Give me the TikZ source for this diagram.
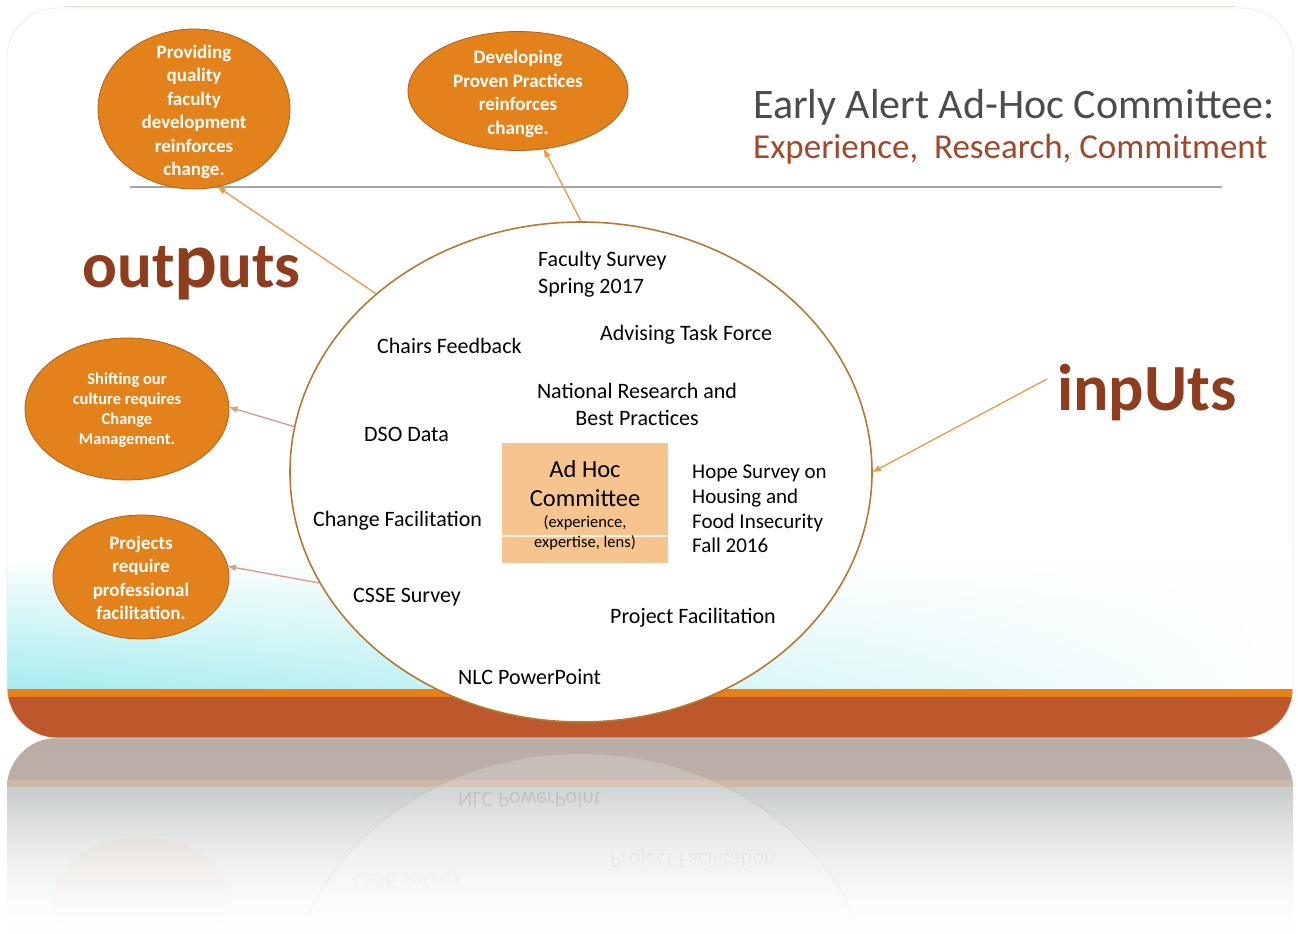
\documentclass[tikz,border=0pt]{standalone}
\usepackage{fontspec}
\setmainfont{Carlito}
\usetikzlibrary{shapes.geometric,arrows.meta,fadings}
\definecolor{orangeC}{HTML}{E3811B}
\definecolor{orangeB}{HTML}{B0601C}
\definecolor{rust}{HTML}{BC582B}
\definecolor{stripO}{HTML}{E6811A}
\definecolor{cyanC}{HTML}{A4ECEF}
\definecolor{wordC}{HTML}{8E3D1F}
\definecolor{titleG}{HTML}{4C4C4C}
\definecolor{titleR}{HTML}{A2482A}
\definecolor{ellB}{HTML}{B57A30}
\definecolor{boxC}{HTML}{F6C48E}
\definecolor{arrO}{HTML}{EA9A45}
\definecolor{arrP}{HTML}{D49A8A}
\definecolor{refTop}{HTML}{B9ADA7}
\definecolor{refStrip}{HTML}{CDB8A8}
\definecolor{refMid}{HTML}{C8CCCC}
\tikzfading[name=fadeR, left color=transparent!0, middle color=transparent!85, right color=transparent!100]
\tikzfading[name=fadeDown, top color=transparent!100, bottom color=transparent!0]
\begin{document}
\begin{tikzpicture}[x=1pt,y=-1pt,
  outc/.style={ellipse, fill=orangeC, draw=orangeB, line width=0.8pt, inner sep=0pt},
  outt/.style={text=white, align=center, inner sep=0pt},
  lbl/.style={text=black, inner sep=0pt, font=\fontsize{22}{27}\selectfont},
  arr/.style={-{Triangle[length=8pt,width=6pt]}, line width=1.3pt},
  word/.style={text=wordC, inner sep=0pt},
  refl/.style={text=black, yscale=-1, anchor=west, inner sep=0pt, font=\fontsize{22}{27}\selectfont},
]
\useasboundingbox (0,0) rectangle (1298,934);
\fill[white] (0,0) rectangle (1298,934);

% ---- reflection ----
\begin{scope}
\clip[rounded corners=50pt] (7,738) rectangle (1293,1100);
\shade[top color=refTop, bottom color=refTop!85!refStrip] (0,738) rectangle (1298,781);
\fill[refStrip] (0,780) rectangle (1298,788);
\shade[top color=refMid, bottom color=white!96!black] (0,787) rectangle (1298,934);
\fill[white, opacity=0.2] (581,1004) ellipse [x radius=291pt, y radius=250pt];
\draw[ellB!25!refMid, opacity=0.5, line width=1pt] (581,1004) ellipse [x radius=291pt, y radius=250pt];
\fill[orangeC, opacity=0.07] (141,899) ellipse [x radius=88pt, y radius=62pt];
\node[refl, opacity=0.10] (rNLC) at (458,800) {NLC PowerPoint};
\node[refl, opacity=0.08] (rPF) at (610,859) {Project Facilitation};
\node[refl, opacity=0.06] (rCS) at (353,880) {CSSE Survey};
\fill[white, path fading=fadeDown] (0,790) rectangle (1298,934);
\end{scope}

% ---- slide ----
\begin{scope}
\clip[rounded corners=50pt] (7,8) rectangle (1293,738);
\shade[top color=white, bottom color=cyanC, path fading=fadeR] (7,555) rectangle (1293,690);
\fill[stripO] (0,689) rectangle (1298,698);
\fill[rust] (0,697) rectangle (1298,740);
\end{scope}
\draw[black!7, line width=0.8pt, rounded corners=50pt] (7,8) rectangle (1293,738);
\draw[orangeB!25, line width=1pt] (65,7) -- (1235,7);

% separator line
\draw[black!35, line width=1.2pt] (130,187) -- (1222,187);

% title
\node[anchor=base west, text=titleG, inner sep=0pt, font=\fontsize{42}{50}\selectfont] (t1) at (753,118) {Early Alert Ad-Hoc Committee:};
\node[anchor=base west, text=titleR, inner sep=0pt, font=\fontsize{35}{42}\selectfont] (t2) at (753,158) {Experience,\ \ Research, Commitment};

% big ellipse
\node[ellipse, draw=ellB, fill=white, line width=1.6pt, minimum width=582pt, minimum height=500pt, inner sep=0pt] (big) at (581,472) {};

% orange outcome circles
\node[outc, minimum width=192pt, minimum height=160pt] (o1) at (194,109) {};
\node[outt, font=\bfseries\fontsize{19}{23.5}\selectfont] (o1t) at (194,112)
  {Providing\\quality\\faculty\\development\\reinforces\\change.};
\node[outc, minimum width=220pt, minimum height=119pt] (o2) at (518,91) {};
\node[outt, font=\bfseries\fontsize{19}{23.5}\selectfont] (o2t) at (518,94)
  {Developing\\Proven Practices\\reinforces\\change.};
\node[outc, minimum width=204pt, minimum height=142pt] (o3) at (127,409) {};
\node[outt, font=\bfseries\fontsize{16.5}{20}\selectfont] (o3t) at (127,410)
  {Shifting our\\culture requires\\Change\\Management.};
\node[outc, minimum width=176pt, minimum height=124pt] (o4) at (141,577) {};
\node[outt, font=\bfseries\fontsize{19}{23.5}\selectfont] (o4t) at (141,578)
  {Projects\\require\\professional\\facilitation.};

% arrows
\draw[arr, arrO] (big.139.6) -- (o1.-73);
\draw[arr, arrO] (big.90) -- (o2.-66);
\draw[arr, arrP] (big.171.7) -- (o3.1);
\draw[arr, arrP] (big.203.9) -- (o4.7);
\coordinate (inStart) at (1047,379);
\draw[arr, arrO] (inStart) -- (big.0.5);

% WordArt labels
\node[word, anchor=base west, font=\bfseries\fontsize{65}{70}\selectfont] (outw) at (82,287)
  {out{\fontsize{80}{80}\selectfont p}uts};
\node[word, anchor=base west, font=\bfseries\fontsize{66}{70}\selectfont] (inw) at (1057,410)
  {inpUts};

% central box
\node[rectangle, fill=boxC, minimum width=166pt, minimum height=120pt, inner sep=0pt] (box) at (585,503) {};
\draw[white, opacity=0.8, line width=2pt] ([yshift=-33pt]box.west) -- ([yshift=-33pt]box.east);
\node[align=center, inner sep=0pt, font=\fontsize{24.5}{29}\selectfont] (boxt) at (585,484) {Ad Hoc\\Committee};
\node[align=center, inner sep=0pt, font=\fontsize{16.5}{20}\selectfont] (boxs) at (585,533) {(experience,\\expertise, lens)};

% inputs in ellipse
\node[lbl, anchor=west, align=left] (fs) at (538,274) {Faculty Survey\\Spring 2017};
\node[lbl, anchor=west] (atf) at (600,335) {Advising Task Force};
\node[lbl, anchor=west] (cf) at (377,346) {Chairs Feedback};
\node[lbl, align=center] (nr) at (637,404) {National Research and\\Best Practices};
\node[lbl, anchor=west] (dso) at (364,434) {DSO Data};
\node[lbl, anchor=west, align=left, font=\fontsize{21}{24.7}\selectfont] (hope) at (692,509) {Hope Survey on\\Housing and\\Food Insecurity\\Fall 2016};
\node[lbl, anchor=west] (chf) at (313,521) {Change Facilitation};
\node[lbl, anchor=west] (csse) at (353,597) {CSSE Survey};
\node[lbl, anchor=west] (pf) at (610,618) {Project Facilitation};
\node[lbl, anchor=west] (nlc) at (458,677) {NLC PowerPoint};
\end{tikzpicture}
\end{document}
